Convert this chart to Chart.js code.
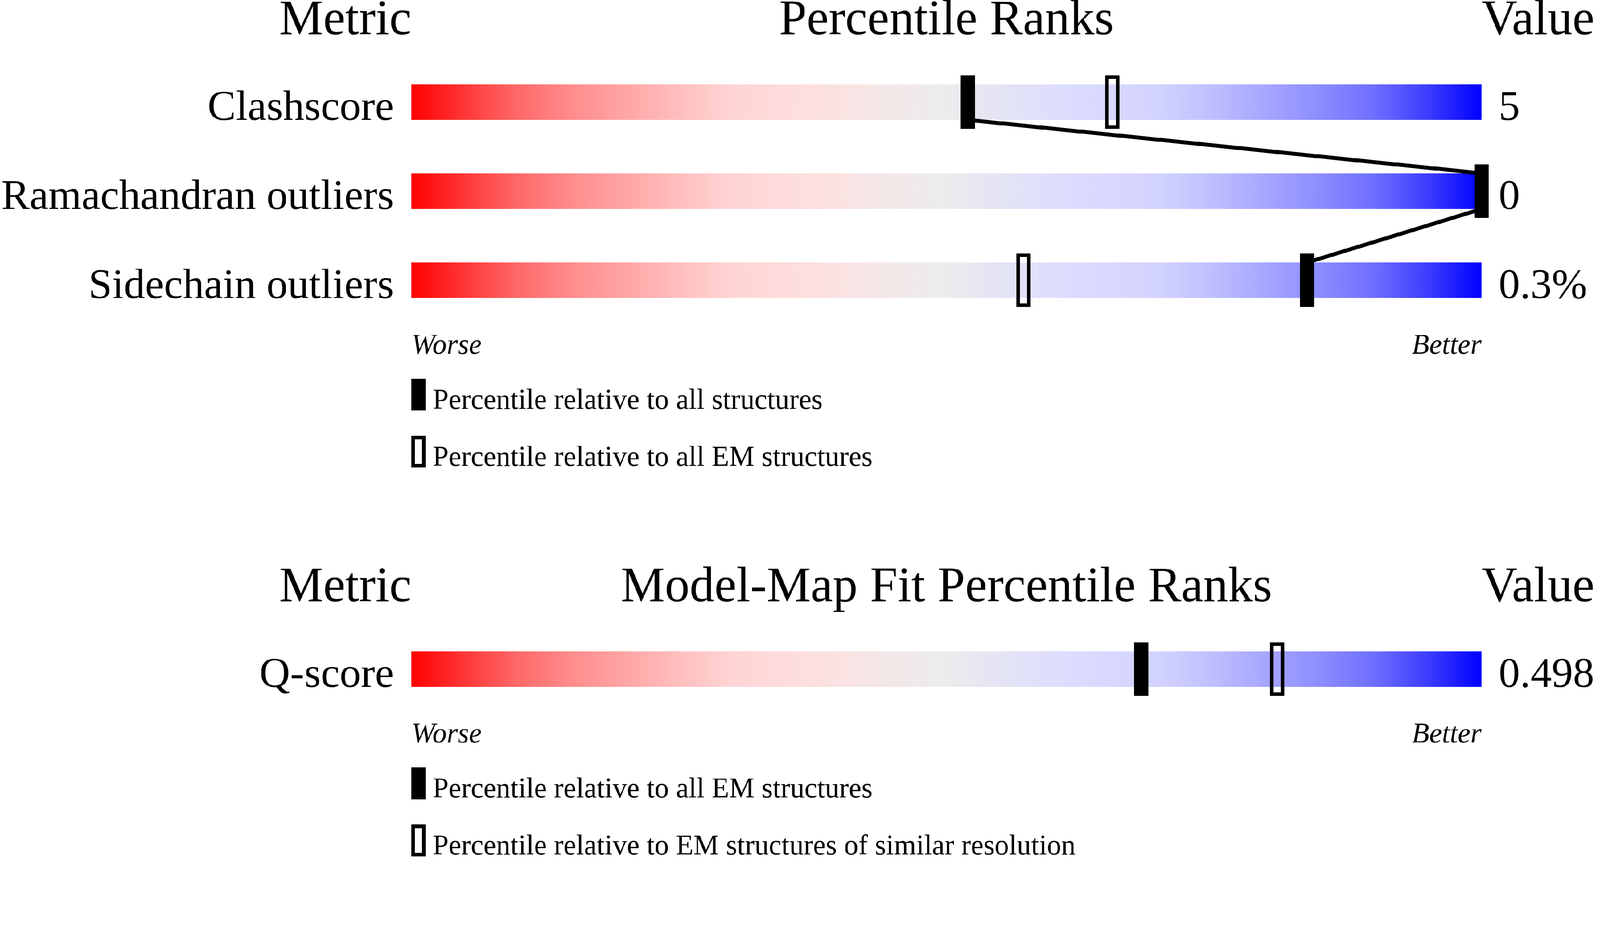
<!DOCTYPE html>
<html>
<head>
<meta charset="utf-8">
<script src="https://cdn.jsdelivr.net/npm/chart.js@4.4.1/dist/chart.umd.min.js"></script>
<style>
  html, body { margin: 0; padding: 0; background: #ffffff; overflow: hidden; }
  #viewport { position: fixed; left: 0; top: 0; width: 100vw; height: 100vh; overflow: hidden; background: #ffffff; }
  #wrap { position: absolute; left: 0; top: 0; width: 4485px; height: 2402px; transform-origin: 0 0; }
  #wrap canvas { position: absolute; left: 0; }
</style>
</head>
<body>
<div id="viewport">
  <div id="wrap">
    <canvas id="geo" width="4485" height="1400" style="top:0px"></canvas>
    <canvas id="fit" width="4485" height="1002" style="top:1400px"></canvas>
  </div>
</div>
<script>
// ---------------- DATA ----------------
const geoMetrics = ['Clashscore', 'Ramachandran outliers', 'Sidechain outliers'];
const geoValues = ['5', '0', '0.3%'];
const geoPctAll = [52, 100, 83.7];      // percentile relative to all structures
const geoPctEM = [65.5, 100, 57.2];     // percentile relative to all EM structures
const geoLegend = ['Percentile relative to all structures', 'Percentile relative to all EM structures'];

const fitMetrics = ['Q-score'];
const fitValues = ['0.498'];
const fitPctAll = [68.2];               // percentile relative to all EM structures
const fitPctRes = [80.9];               // percentile relative to EM structures of similar resolution
const fitLegend = ['Percentile relative to all EM structures', 'Percentile relative to EM structures of similar resolution'];

const scaleEnds = ['Worse', 'Better'];
const headers = ['Metric', 'Value'];
const geoTitle = 'Percentile Ranks';
const fitTitle = 'Model-Map Fit Percentile Ranks';

// ---------------- PAGE SCALE (fit 4485x2402 design into the viewport) ----------------
const DESIGN_W = 4485, DESIGN_H = 2402;
const fitScale = Math.min(window.innerWidth / DESIGN_W, window.innerHeight / DESIGN_H) || 1;
document.getElementById('wrap').style.transform = 'scale(' + fitScale + ')';
const backingRatio = Math.max(1, (window.devicePixelRatio || 1) * fitScale);

// ---------------- STYLE ----------------
const FAMILY = '"Liberation Serif", "Times New Roman", serif';
Chart.defaults.font.family = FAMILY;
Chart.defaults.color = '#000000';

const gradStops = [
  [0.00, '#ff0000'], [0.05, '#ff3737'], [0.10, '#ff6969'], [0.15, '#ff8c8c'],
  [0.20, '#ffa5a5'], [0.25, '#ffbebe'], [0.30, '#ffd4d4'], [0.35, '#ffdcdc'],
  [0.40, '#fae2e2'], [0.45, '#f3e8e8'], [0.50, '#ececec'], [0.55, '#e4e4f5'],
  [0.60, '#dedefd'], [0.65, '#d8d8ff'], [0.70, '#d2d2ff'], [0.75, '#bebeff'],
  [0.80, '#a5a5ff'], [0.85, '#8c8cff'], [0.90, '#6e6eff'], [0.95, '#3c3cff'],
  [1.00, '#0000ff']
];

function makeMarker(w, h, filled, border) {
  const c = document.createElement('canvas');
  c.width = w; c.height = h;
  const g = c.getContext('2d');
  g.fillStyle = '#000000';
  if (filled) {
    g.fillRect(0, 0, w, h);
  } else {
    g.fillRect(0, 0, w, border);
    g.fillRect(0, h - border, w, border);
    g.fillRect(0, 0, border, h);
    g.fillRect(w - border, 0, border, h);
  }
  return c;
}
const solidMarker = makeMarker(40, 150, true, 10);
const openMarker = makeMarker(40, 150, false, 10);
const solidLegend = makeMarker(40, 89, true, 10);
const openLegend = makeMarker(40, 89, false, 10);

function gradientFill(context) {
  const chart = context.chart;
  const xs = chart.scales.x;
  if (!xs || !chart.chartArea) return '#ececec';
  const x0 = xs.getPixelForValue(0);
  const x1 = xs.getPixelForValue(100);
  const g = chart.ctx.createLinearGradient(x0, 0, x1, 0);
  gradStops.forEach(([o, c]) => g.addColorStop(o, c));
  return g;
}

function panelPlugin(title, legend) {
  return {
    id: 'panelText',
    afterDraw(chart) {
      const { ctx, chartArea: a } = chart;
      ctx.save();
      ctx.fillStyle = '#000000';
      ctx.textBaseline = 'alphabetic';
      ctx.font = '139px ' + FAMILY;
      const ty = a.top - 65;
      ctx.textAlign = 'right';
      ctx.fillText(headers[0], a.left, ty);
      ctx.textAlign = 'center';
      ctx.fillText(title, (a.left + a.right) / 2, ty);
      ctx.textAlign = 'left';
      ctx.fillText(headers[1], a.right, ty);
      ctx.font = '80px ' + FAMILY;
      legend.forEach((label, i) => {
        const top = a.bottom + 151 + i * 160;
        ctx.drawImage(i === 0 ? solidLegend : openLegend, a.left, top);
        ctx.fillText(label, a.left + 60, top + 84);
      });
      ctx.restore();
    }
  };
}

function linkPoints(pcts) {
  const half = 0.2; // half bar thickness in row units (barPercentage 0.4)
  const pts = [];
  pcts.forEach((p, i) => {
    if (i > 0) pts.push({ x: p, y: i - half });
    if (i < pcts.length - 1) pts.push({ x: p, y: i + half });
  });
  return pts;
}

function buildPanel(canvasId, metrics, values, pctA, pctB, title, legend, padTop, xHeight, withLink) {
  const n = metrics.length;
  const datasets = [
    {
      type: 'scatter', label: legend[0], xAxisID: 'x', yAxisID: 'y',
      data: pctA.map((p, i) => ({ x: p, y: i })),
      pointStyle: solidMarker, pointRadius: 1, pointHoverRadius: 1, clip: false, order: 0
    },
    {
      type: 'scatter', label: legend[1], xAxisID: 'x', yAxisID: 'y',
      data: pctB.map((p, i) => ({ x: p, y: i })),
      pointStyle: openMarker, pointRadius: 1, pointHoverRadius: 1, clip: false, order: 0
    }
  ];
  if (withLink) {
    datasets.push({
      type: 'line', label: 'link', xAxisID: 'x', yAxisID: 'y',
      data: linkPoints(pctA), borderColor: '#000000', borderWidth: 11,
      pointRadius: 0, pointHoverRadius: 0, fill: false, tension: 0,
      borderJoinStyle: 'round', clip: false, order: 1
    });
  }
  datasets.push({
    type: 'bar', label: 'range', indexAxis: 'y', xAxisID: 'x', yAxisID: 'y',
    data: metrics.map((_, i) => ({ x: [0, 100], y: i })),
    backgroundColor: gradientFill, borderWidth: 0,
    barPercentage: 0.4, categoryPercentage: 1.0, order: 2
  });

  const yCommon = {
    type: 'linear', min: -0.5, max: n - 0.5, reverse: true, offset: false,
    grid: { display: false, offset: false }, border: { display: false },
    afterBuildTicks: s => { s.ticks = metrics.map((_, i) => ({ value: i })); }
  };

  return new Chart(document.getElementById(canvasId), {
    type: 'scatter',
    data: { datasets },
    options: {
      responsive: false,
      animation: false,
      devicePixelRatio: backingRatio,
      events: [],
      layout: { padding: { top: padTop, left: 0, right: 0, bottom: 0 } },
      plugins: { legend: { display: false }, tooltip: { enabled: false }, title: { display: false } },
      scales: {
        x: {
          type: 'linear', min: 0, max: 100, position: 'bottom', offset: false,
          grid: { display: false }, border: { display: false },
          afterBuildTicks: s => { s.ticks = [{ value: 0 }, { value: 100 }]; },
          afterFit: s => { s.height = xHeight; },
          ticks: {
            align: 'inner', padding: 4, maxRotation: 0, minRotation: 0, autoSkip: false,
            font: { size: 80, style: 'italic' },
            callback: (v, i) => scaleEnds[i]
          }
        },
        y: Object.assign({}, yCommon, {
          position: 'left',
          afterFit: s => { s.width = 1153; },
          ticks: { padding: 41, labelOffset: 19, autoSkip: false, font: { size: 119 }, callback: v => metrics[v] }
        }),
        y2: Object.assign({}, yCommon, {
          position: 'right',
          afterFit: s => { s.width = 332; },
          ticks: { padding: 40, labelOffset: 19, autoSkip: false, font: { size: 119 }, callback: v => values[v] }
        })
      }
    },
    plugins: [panelPlugin(title, legend)]
  });
}

buildPanel('geo', geoMetrics, geoValues, geoPctAll, geoPctEM, geoTitle, geoLegend, 161, 489, true);
buildPanel('fit', fitMetrics, fitValues, fitPctAll, fitPctRes, fitTitle, fitLegend, 351, 401, false);
</script>
</body>
</html>
